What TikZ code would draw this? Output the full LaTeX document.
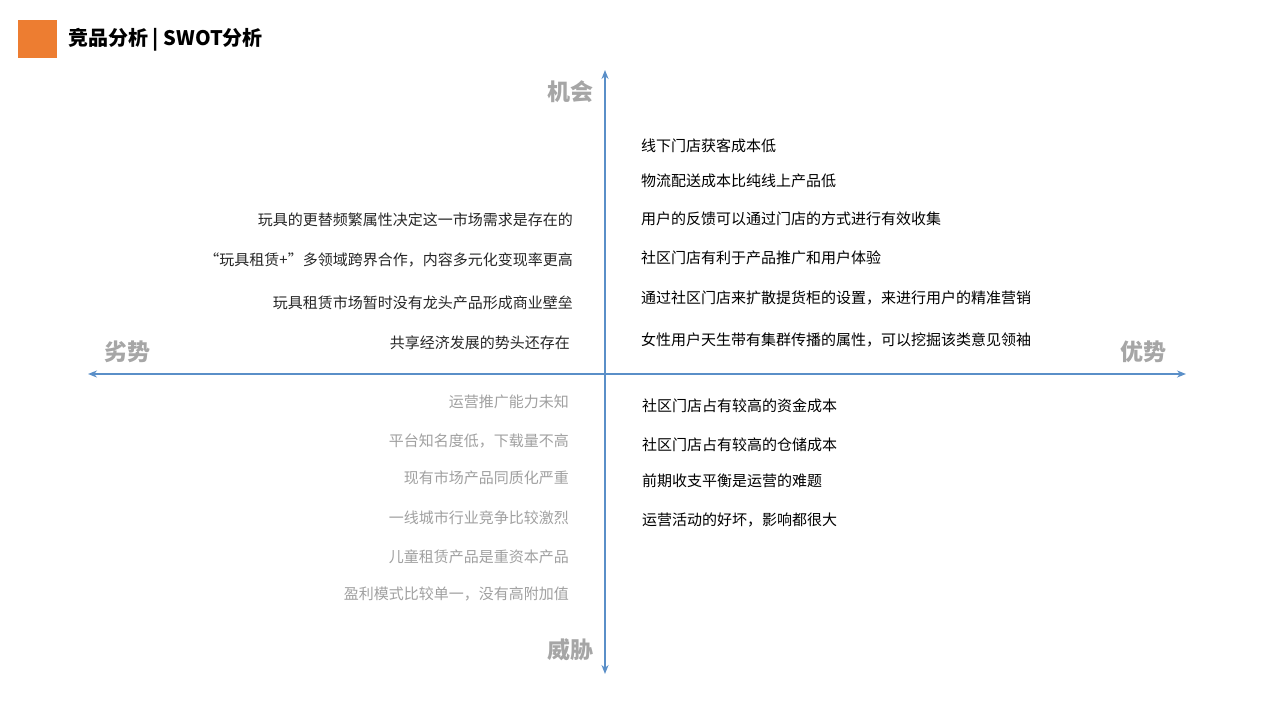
\documentclass[tikz,border=0pt]{standalone}
\usepackage{fontspec}
\setmainfont{Noto Sans CJK SC}
\usetikzlibrary{arrows.meta}
\definecolor{axisblue}{HTML}{5A8FC8}
\definecolor{orng}{HTML}{ED7D31}
\definecolor{lbl}{HTML}{A6A6A6}
\definecolor{dim}{HTML}{A0A0A0}
\tikzset{
 axis/.style={draw=axisblue,line width=1.6pt,{Stealth[length=9pt,width=7pt]}-{Stealth[length=9pt,width=7pt]}},
 big/.style={font=\fontsize{23}{26}\selectfont\bfseries,text=lbl,inner sep=0pt},
 rt/.style={font=\fontsize{15}{18}\selectfont,anchor=west,inner sep=0pt,text=black},
 lt/.style={font=\fontsize{15}{18}\selectfont,anchor=east,inner sep=0pt,text=black!85},
 lg/.style={font=\fontsize{15}{18}\selectfont,anchor=east,inner sep=0pt,text=dim},
}
\begin{document}
\begin{tikzpicture}[x=1pt,y=-1pt]
\useasboundingbox (0,0) rectangle (1280,720);
\fill[orng] (18,20) rectangle (57,58);
\node[anchor=west,inner sep=0pt,font=\fontsize{20}{24}\selectfont\bfseries] (title) at (68,40) {竞品分析 | SWOT分析};
\coordinate (vt) at (605,70); \coordinate (vb) at (605,674);
\coordinate (hl) at (88,374); \coordinate (hr) at (1186,374);
\draw[axis] (vb) -- (vt);
\draw[axis] (hl) -- (hr);
\node[big] (o) at (570,92) {机会};
\node[big] (t) at (570,650) {威胁};
\node[big] (w) at (127,352) {劣势};
\node[big] (s) at (1143,352) {优势};
\node[rt] (r1) at (641,146) {线下门店获客成本低};
\node[rt] (r2) at (641,181) {物流配送成本比纯线上产品低};
\node[rt] (r3) at (641,219) {用户的反馈可以通过门店的方式进行有效收集};
\node[rt] (r4) at (641,258) {社区门店有利于产品推广和用户体验};
\node[rt] (r5) at (641,298) {通过社区门店来扩散提货柜的设置，来进行用户的精准营销};
\node[rt] (r6) at (641,340) {女性用户天生带有集群传播的属性，可以挖掘该类意见领袖};
\node[lt] (l1) at (573,220) {玩具的更替频繁属性决定这一市场需求是存在的};
\node[lt] (l2) at (573,260) {“玩具租赁+”多领域跨界合作，内容多元化变现率更高};
\node[lt] (l3) at (573,303) {玩具租赁市场暂时没有龙头产品形成商业壁垒};
\node[lt] (l4) at (570,343) {共享经济发展的势头还存在};
\node[lg] (g1) at (569,402) {运营推广能力未知};
\node[lg] (g2) at (569,441) {平台知名度低，下载量不高};
\node[lg] (g3) at (569,478) {现有市场产品同质化严重};
\node[lg] (g4) at (569,518) {一线城市行业竞争比较激烈};
\node[lg] (g5) at (569,557) {儿童租赁产品是重资本产品};
\node[lg] (g6) at (569,594) {盈利模式比较单一，没有高附加值};
\node[rt] (b1) at (642,406) {社区门店占有较高的资金成本};
\node[rt] (b2) at (642,445) {社区门店占有较高的仓储成本};
\node[rt] (b3) at (642,481) {前期收支平衡是运营的难题};
\node[rt] (b4) at (642,520) {运营活动的好坏，影响都很大};
\end{tikzpicture}
\end{document}
